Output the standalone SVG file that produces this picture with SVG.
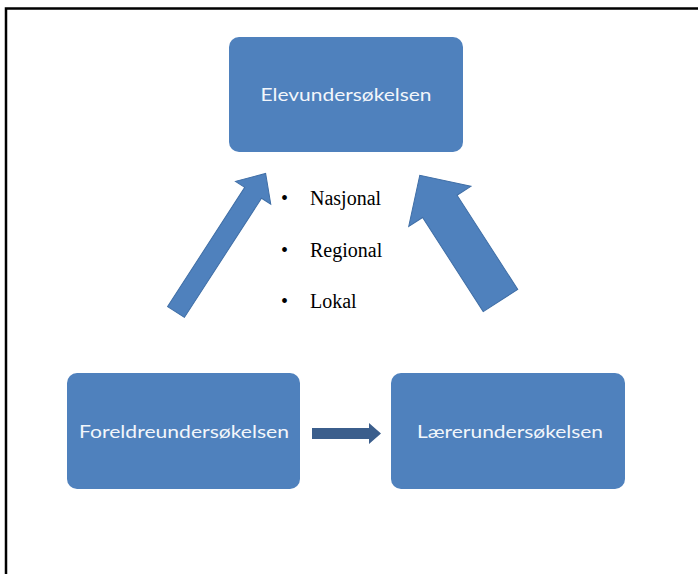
<svg xmlns="http://www.w3.org/2000/svg" width="698" height="574" viewBox="0 0 698 574">
<style>
.box{fill:#4f81bd;}
.lbl{font-family:Lato,"Open Sans",sans-serif;font-size:18px;fill:#f2f6fb;text-anchor:middle;}
.blt{font-family:"Liberation Serif",serif;font-size:20px;fill:#000;}
.big{fill:#4f81bd;stroke:#3f6ea6;stroke-width:1;}
.small{fill:#3b5e8c;}
</style>
<rect width="698" height="574" fill="#fff"/>
<path d="M6,574 V8.5 H698" fill="none" stroke="#000" stroke-width="2.5"/>
<g id="elev">
<rect class="box" x="229" y="37" width="234" height="115" rx="10"/>
<text class="lbl" x="346" y="101" textLength="171" lengthAdjust="spacingAndGlyphs">Elevundersøkelsen</text>
</g>
<g id="foreldre">
<rect class="box" x="67" y="373" width="233" height="116" rx="10"/>
<text class="lbl" x="184" y="438" textLength="210" lengthAdjust="spacingAndGlyphs">Foreldreundersøkelsen</text>
</g>
<g id="laerer">
<rect class="box" x="391" y="373" width="234" height="116" rx="10"/>
<text class="lbl" x="510" y="438" textLength="186" lengthAdjust="spacingAndGlyphs">Lærerundersøkelsen</text>
</g>
<g id="list">
<text class="blt" x="281" y="205">•</text><text class="blt" x="310" y="205">Nasjonal</text>
<text class="blt" x="281" y="257">•</text><text class="blt" x="310" y="257">Regional</text>
<text class="blt" x="281" y="308">•</text><text class="blt" x="310" y="308">Lokal</text>
</g>
<g id="connectors">
<polygon class="big" transform="translate(176,312) rotate(-57.1)" points="0,-10 142,-10 142,-21 165,0 142,21 142,10 0,10"/>
<polygon class="big" transform="translate(500.5,300.5) rotate(-122.8)" points="0,-20.5 112,-20.5 112,-37 149,0 112,37 112,20.5 0,20.5"/>
<polygon class="small" points="312,428 369,428 369,423 381,433.5 369,444 369,439 312,439"/>
</g>
</svg>
